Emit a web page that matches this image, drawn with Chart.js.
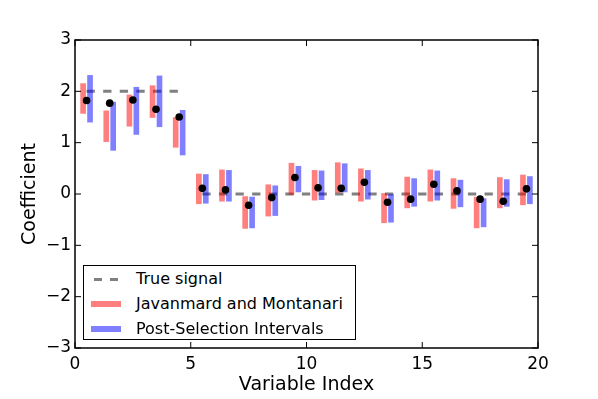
<!DOCTYPE html>
<html><head><meta charset="utf-8">
<script src="https://cdn.jsdelivr.net/npm/chart.js@4.4.1/dist/chart.umd.min.js"></script>
<style>
html,body{margin:0;padding:0;background:#fff;}
#wrap{position:relative;width:598px;height:399px;overflow:hidden;}
#c{position:absolute;left:0;top:0;}
#legend{position:absolute;box-sizing:border-box;border:1.5px solid #000;background:#fff;font-family:"DejaVu Sans";font-size:16px;color:#000;}
.row{position:absolute;left:0;right:0;height:24px;}
.handle{position:absolute;top:50%;}
.label{position:absolute;left:52px;top:0;line-height:24px;white-space:nowrap;}
</style></head>
<body><div id="wrap"><canvas id="c" width="598" height="399"></canvas><div id="legend"></div></div>
<script>
// ---- data ----
const variableIndex = [0,1,2,3,4,5,6,7,8,9,10,11,12,13,14,15,16,17,18,19];
const estimates  = [1.82,1.77,1.83,1.65,1.50,0.11,0.08,-0.22,-0.07,0.32,0.12,0.11,0.23,-0.16,-0.10,0.19,0.06,-0.10,-0.14,0.10];
const trueSignal = [2,2,2,2,2,0,0,0,0,0,0,0,0,0,0,0,0,0,0,0];
const jmLower = [1.57,1.02,1.32,1.49,0.91,-0.19,-0.14,-0.67,-0.43,-0.01,-0.12,0.03,-0.14,-0.56,-0.27,-0.14,-0.28,-0.66,-0.27,-0.21];
const jmUpper = [2.15,1.62,1.93,2.11,1.49,0.39,0.47,-0.05,0.18,0.60,0.46,0.61,0.49,0.01,0.33,0.47,0.30,-0.06,0.32,0.37];
const psLower = [1.40,0.85,1.16,1.31,0.76,-0.18,-0.14,-0.66,-0.42,0.04,-0.11,0.04,-0.10,-0.55,-0.24,-0.12,-0.25,-0.64,-0.24,-0.19];
const psUpper = [2.31,1.79,2.08,2.30,1.63,0.38,0.46,-0.06,0.16,0.54,0.45,0.59,0.46,-0.01,0.30,0.45,0.27,-0.09,0.28,0.34];
const xTickValues = [0,5,10,15,20];
const yTickValues = [-3,-2,-1,0,1,2,3];
const seriesNames = ['True signal','Javanmard and Montanari','Post-Selection Intervals'];
const xTitle = 'Variable Index';
const yTitle = 'Coefficient';

// ---- styles ----
const RED = 'rgba(255,0,0,0.5)';
const BLUE = 'rgba(0,0,255,0.5)';
const GRAY = '#808080';
const FONT = 'DejaVu Sans';

// split true signal into runs of equal values (separate line pieces)
const signalDatasets = [];
let run = [];
variableIndex.forEach((v, i) => {
  if (run.length && trueSignal[i] !== trueSignal[i-1]) { signalDatasets.push(run); run = []; }
  run.push({x: v + 0.5, y: trueSignal[i]});
});
if (run.length) signalDatasets.push(run);

const datasets = [];
signalDatasets.forEach((d, k) => datasets.push({
  type: 'line', label: seriesNames[0], data: d, borderColor: GRAY, borderWidth: 3,
  borderDash: [8.3, 8.3], pointRadius: 0, fill: false, order: 4
}));
datasets.push({
  type: 'bar', label: seriesNames[1], grouped: false, barThickness: 5,
  data: variableIndex.map((v, i) => ({x: v + 0.35, y: [jmLower[i], jmUpper[i]]})),
  backgroundColor: RED, borderWidth: 0, order: 3
});
datasets.push({
  type: 'bar', label: seriesNames[2], grouped: false, barThickness: 5,
  data: variableIndex.map((v, i) => ({x: v + 0.65, y: [psLower[i], psUpper[i]]})),
  backgroundColor: BLUE, borderWidth: 0, order: 2
});
datasets.push({
  type: 'line', label: 'estimate', showLine: false,
  data: variableIndex.map((v, i) => ({x: v + 0.5, y: estimates[i]})),
  pointRadius: 3.8, pointBackgroundColor: '#000', pointBorderWidth: 0, order: 1
});

const fmt = v => String(v).replace('-', '\u2212');

const framePlugin = {
  id: 'frame',
  afterDatasetsDraw(chart) {
    const {ctx, chartArea: a, scales: {x, y}} = chart;
    ctx.save();
    ctx.strokeStyle = '#000';
    ctx.lineWidth = 1;
    const T = 6;
    ctx.beginPath();
    xTickValues.forEach(v => {
      const px = x.getPixelForValue(v);
      ctx.moveTo(px, a.bottom); ctx.lineTo(px, a.bottom - T);
      ctx.moveTo(px, a.top); ctx.lineTo(px, a.top + T);
    });
    yTickValues.forEach(v => {
      const py = y.getPixelForValue(v);
      ctx.moveTo(a.left, py); ctx.lineTo(a.left + T, py);
      ctx.moveTo(a.right, py); ctx.lineTo(a.right - T, py);
    });
    ctx.stroke();
    ctx.lineWidth = 1.5;
    ctx.strokeRect(a.left, a.top, a.right - a.left, a.bottom - a.top);
    ctx.restore();
  },
  afterDraw(chart) {
    const a = chart.chartArea;
    const L = document.getElementById('legend');
    L.style.left = (a.left + 8) + 'px';
    L.style.top = (a.bottom - 83) + 'px';
    L.style.width = '273px';
    L.style.height = '75px';
  }
};

new Chart(document.getElementById('c'), {
  type: 'bar',
  data: { datasets },
  plugins: [framePlugin],
  options: {
    responsive: false, animation: false,
    layout: { padding: { top: 40, right: 60, left: 0, bottom: 0 } },
    plugins: { legend: { display: false }, tooltip: { enabled: false } },
    scales: {
      x: {
        type: 'linear', min: 0, max: 20, offset: false,
        afterBuildTicks: s => { s.ticks = xTickValues.map(v => ({value: v})); },
        afterFit: s => { s.height = 51; },
        grid: { display: false, drawTicks: false }, border: { display: false },
        ticks: { color: '#000', font: { family: FONT, size: 17 }, padding: 6, callback: fmt, maxRotation: 0, autoSkip: false },
        title: { display: true, text: xTitle, color: '#000', font: { family: FONT, size: 19 }, padding: { top: 0, bottom: 3 } }
      },
      y: {
        type: 'linear', min: -3, max: 3,
        afterBuildTicks: s => { s.ticks = yTickValues.map(v => ({value: v})); },
        afterFit: s => { s.width = 75; },
        grid: { display: false, drawTicks: false }, border: { display: false },
        ticks: { color: '#000', font: { family: FONT, size: 17 }, padding: 4, callback: fmt, autoSkip: false },
        title: { display: true, text: yTitle, color: '#000', font: { family: FONT, size: 19 }, padding: { top: 19, bottom: 0 } }
      }
    }
  }
});

// ---- legend (HTML) ----
const L = document.getElementById('legend');
const handles = [
  'left:10px;width:25px;height:3px;margin-top:-1.5px;background:repeating-linear-gradient(to right,' + GRAY + ' 0 8px,transparent 8px 16px);',
  'left:7px;width:30px;height:6px;margin-top:-3px;background:' + RED + ';',
  'left:7px;width:30px;height:6px;margin-top:-3px;background:' + BLUE + ';'
];
seriesNames.forEach((name, i) => {
  const r = document.createElement('div');
  r.className = 'row';
  r.style.top = (1 + i * 25) + 'px';
  const h = document.createElement('div');
  h.className = 'handle'; h.style.cssText = handles[i];
  const t = document.createElement('div');
  t.className = 'label'; t.textContent = name;
  r.appendChild(h); r.appendChild(t); L.appendChild(r);
});
</script>
</body></html>
